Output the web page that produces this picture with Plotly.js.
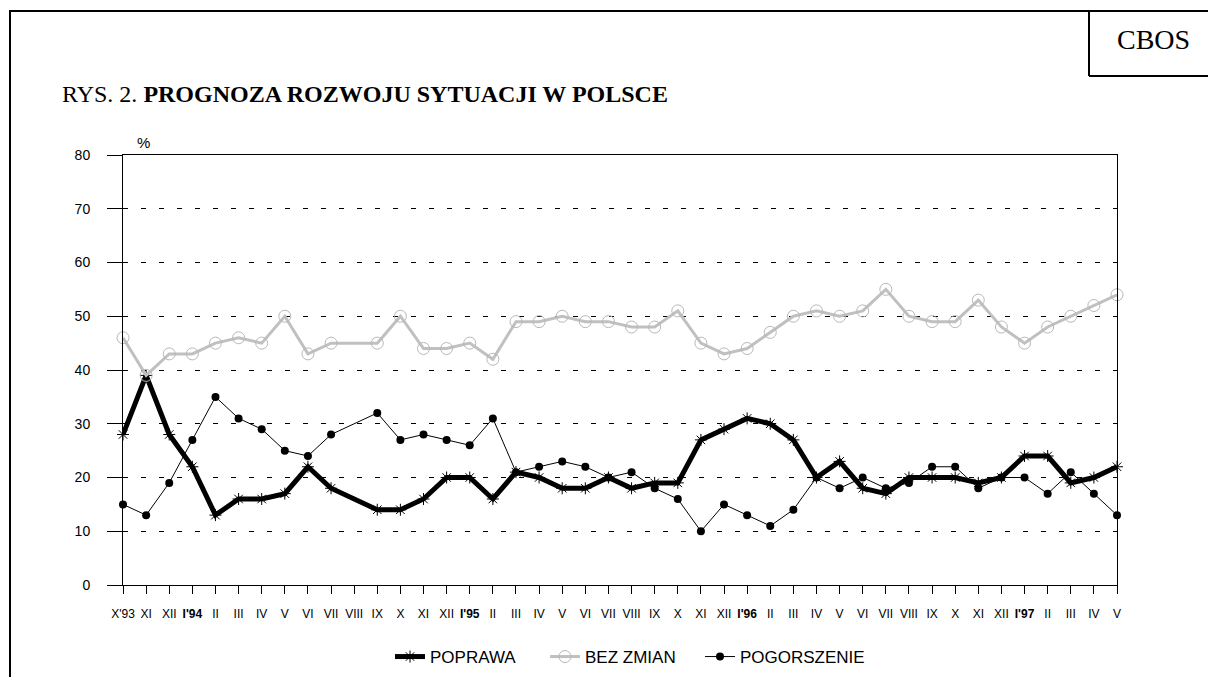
<!DOCTYPE html>
<html>
<head>
<meta charset="utf-8">
<script src="https://cdn.plot.ly/plotly-3.0.1.min.js"></script>
<style>html,body{margin:0;padding:0;background:#fff;}#chart{width:1208px;height:677px;}</style>
</head>
<body>
<div id="chart"></div>
<script>
var categories = ["X'93","XI","XII","<b>I'94</b>","II","III","IV","V","VI","VII","VIII","IX","X","XI","XII","<b>I'95</b>","II","III","IV","V","VI","VII","VIII","IX","X","XI","XII","<b>I'96</b>","II","III","IV","V","VI","VII","VIII","IX","X","XI","XII","<b>I'97</b>","II","III","IV","V"];
var poprawa = [28,39,28,22,13,16,16,17,22,18,null,14,14,16,20,20,16,21,20,18,18,20,18,19,19,27,29,31,30,27,20,23,18,17,20,20,20,19,20,24,24,19,20,22];
var bezZmian = [46,39,43,43,45,46,45,50,43,45,null,45,50,44,44,45,42,49,49,50,49,49,48,48,51,45,43,44,47,50,51,50,51,55,50,49,49,53,48,45,48,50,52,54];
var pogorszenie = [15,13,19,27,35,31,29,25,24,28,null,32,27,28,27,26,31,21,22,23,22,20,21,18,16,10,15,13,11,14,20,18,20,18,19,22,22,18,20,20,17,21,17,13];
var seriesNames = ["POPRAWA","BEZ ZMIAN","POGORSZENIE"];
var yTicks = [0,10,20,30,40,50,60,70,80];

var xIdx = categories.map(function(c,i){return i;});

// pixel helpers for decorations (plot area 123..1117 x 155..585)
var L=123, R=1117, T=155, B=585;
function px(x){return (x-L)/(R-L);}
function py(y){return (B-y)/(B-T);}

var traces = [
  {x:xIdx, y:poprawa, name:seriesNames[0], type:'scatter', mode:'lines+markers', connectgaps:true, cliponaxis:false, legendwidth:110,
   line:{color:'#000', width:5}, marker:{symbol:'asterisk-open', size:10, color:'#000', line:{color:'#000', width:1}}},
  {x:xIdx, y:bezZmian, name:seriesNames[1], type:'scatter', mode:'lines+markers', connectgaps:true, cliponaxis:false, legendwidth:110,
   line:{color:'#c0c0c0', width:3}, marker:{symbol:'circle-open', size:12, color:'#b8b8b8', line:{color:'#b8b8b8', width:1}}},
  {x:xIdx, y:pogorszenie, name:seriesNames[2], type:'scatter', mode:'lines+markers', connectgaps:true, cliponaxis:false, legendwidth:135,
   line:{color:'#000', width:1}, marker:{symbol:'circle', size:8, color:'#000'}}
];

var layout = {
  width:1208, height:677,
  margin:{l:L, r:1208-R, t:T, b:677-B, pad:0, autoexpand:false},
  paper_bgcolor:'#fff', plot_bgcolor:'#fff',
  font:{family:'Liberation Sans, Arial, sans-serif', color:'#000', size:12},
  showlegend:true,
  legend:{orientation:'h', x:px(390), xanchor:'left', y:py(657), yanchor:'middle',
          font:{family:'Liberation Sans, Arial, sans-serif', size:17, color:'#000'},
          entrywidthmode:'pixels', bgcolor:'rgba(0,0,0,0)', borderwidth:0, itemwidth:30},
  xaxis:{range:[0,43], tickmode:'array', tickvals:xIdx, ticktext:categories, showgrid:false, zeroline:false,
         showline:true, linecolor:'#000', linewidth:1, mirror:true, ticks:'outside', ticklen:8, tickcolor:'#000', tickwidth:1,
         ticklabelstandoff:10, tickangle:0, tickfont:{family:'Liberation Sans, Arial, sans-serif', size:12, color:'#000'}, fixedrange:true},
  yaxis:{range:[0,80], tickmode:'array', tickvals:yTicks, showgrid:true, gridcolor:'#000', gridwidth:1, griddash:'5px,13px',
         zeroline:false, showline:true, linecolor:'#000', linewidth:1, mirror:true, ticks:'outside', ticklen:15,
         tickcolor:'#000', ticklabelstandoff:14, tickfont:{family:'Liberation Sans, Arial, sans-serif', size:14, color:'#000'}, fixedrange:true},
  shapes:[
    {type:'rect', xref:'paper', yref:'paper', x0:px(10), x1:px(1230), y0:py(11), y1:py(700), line:{color:'#000', width:2}, fillcolor:'rgba(0,0,0,0)', layer:'below'},
    {type:'line', xref:'paper', yref:'paper', x0:px(1089), x1:px(1089), y0:py(11), y1:py(76), line:{color:'#000', width:2}},
    {type:'line', xref:'paper', yref:'paper', x0:px(1089), x1:px(1230), y0:py(76), y1:py(76), line:{color:'#000', width:2}}
  ],
  annotations:[
    {xref:'paper', yref:'paper', x:px(1153), y:py(40), xanchor:'center', yanchor:'middle', showarrow:false,
     text:'CBOS', font:{family:'Liberation Serif, Times New Roman, serif', size:28, color:'#000'}},
    {xref:'paper', yref:'paper', x:px(60), y:py(94), xanchor:'left', yanchor:'middle', showarrow:false,
     text:'RYS. 2. <b>PROGNOZA ROZWOJU SYTUACJI W POLSCE</b>', font:{family:'Liberation Serif, Times New Roman, serif', size:24, color:'#000'}},
    {xref:'paper', yref:'paper', x:px(143), y:py(142), xanchor:'center', yanchor:'middle', showarrow:false,
     text:'%', font:{family:'Liberation Sans, Arial, sans-serif', size:15, color:'#000'}}
  ]
};

Plotly.newPlot('chart', traces, layout, {displayModeBar:false, staticPlot:true});
</script>
</body>
</html>
